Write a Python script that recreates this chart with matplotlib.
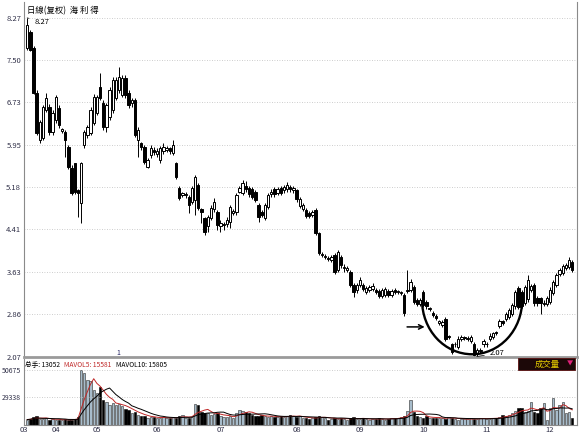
import numpy as np
import pandas as pd
import matplotlib.pyplot as plt
from matplotlib.patches import Rectangle, Arc

plt.rcParams['font.family'] = ['Noto Sans CJK SC', 'DejaVu Sans']

# daily candles (price, yuan)
opens = [7.72, 8.01, 7.72, 6.90, 6.04, 6.08, 6.59, 6.64, 6.19, 6.40,
         6.62, 6.20, 6.18, 5.91, 5.53, 5.62, 5.12, 4.89, 5.95, 6.13,
         6.17, 6.35, 6.53, 7.01, 6.72, 6.28, 6.46, 6.59, 6.81, 6.95,
         6.86, 7.17, 6.90, 6.72, 6.77, 6.04, 5.98, 5.91, 5.55, 5.76,
         5.86, 5.78, 5.67, 5.84, 5.86, 5.89, 5.80, 5.62, 5.16, 5.03,
         5.03, 5.00, 4.91, 4.94, 5.22, 4.78, 4.61, 4.47, 4.61, 4.78,
         4.72, 4.47, 4.48, 4.50, 4.54, 4.70, 4.72, 5.09, 5.07, 5.20,
         5.16, 5.14, 5.09, 4.85, 4.72, 4.61, 4.81, 5.05, 5.14, 5.07,
         5.16, 5.12, 5.14, 5.18, 5.12, 5.12, 4.83, 4.78, 4.76, 4.70,
         4.67, 4.76, 4.34, 3.94, 3.90, 3.88, 3.84, 3.94, 3.66, 3.90,
         3.70, 3.66, 3.63, 3.39, 3.30, 3.39, 3.39, 3.26, 3.30, 3.31,
         3.30, 3.28, 3.19, 3.21, 3.28, 3.21, 3.30, 3.26, 3.24, 3.21,
         3.28, 3.30, 3.35, 3.11, 3.04, 3.26, 3.08, 2.95, 2.88, 2.82,
         2.70, 2.66, 2.77, 2.44, 2.31, 2.30, 2.26, 2.40, 2.41, 2.40,
         2.37, 2.31, 2.13, 2.18, 2.31, 2.30, 2.40, 2.44, 2.53, 2.64,
         2.72, 2.77, 2.80, 2.86, 3.00, 3.33, 3.26, 3.06, 3.13, 3.30,
         3.39, 3.15, 3.15, 3.04, 3.04, 3.08, 3.24, 3.39, 3.59, 3.61,
         3.70, 3.72, 3.80]
highs = [8.27, 8.05, 7.76, 6.95, 6.40, 6.68, 6.90, 6.70, 6.59, 6.86,
         6.68, 6.26, 6.22, 5.95, 5.58, 5.62, 5.14, 5.64, 6.22, 6.31,
         6.64, 6.88, 6.86, 7.26, 6.77, 6.72, 7.01, 7.19, 7.19, 7.37,
         7.23, 7.23, 6.95, 6.81, 6.81, 6.28, 6.00, 5.95, 5.70, 5.95,
         5.91, 5.89, 5.93, 5.98, 5.93, 5.91, 6.04, 5.64, 5.20, 5.09,
         5.09, 5.03, 5.20, 5.40, 5.25, 4.80, 4.63, 4.67, 4.85, 4.98,
         4.76, 4.58, 4.54, 4.63, 4.85, 4.78, 5.07, 5.20, 5.31, 5.29,
         5.20, 5.18, 5.12, 4.89, 4.76, 4.89, 5.07, 5.14, 5.18, 5.18,
         5.20, 5.22, 5.27, 5.22, 5.20, 5.14, 5.00, 4.89, 4.80, 4.74,
         4.76, 4.80, 4.36, 3.99, 3.95, 3.91, 3.93, 3.97, 4.03, 3.93,
         3.77, 3.73, 3.66, 3.42, 3.42, 3.53, 3.42, 3.37, 3.39, 3.42,
         3.33, 3.31, 3.33, 3.35, 3.31, 3.31, 3.33, 3.30, 3.28, 3.24,
         3.66, 3.50, 3.39, 3.15, 3.15, 3.30, 3.11, 2.99, 2.91, 2.86,
         2.75, 2.75, 2.80, 2.48, 2.33, 2.35, 2.46, 2.48, 2.46, 2.45,
         2.48, 2.35, 2.24, 2.24, 2.40, 2.35, 2.50, 2.53, 2.55, 2.77,
         2.75, 2.90, 2.97, 3.06, 3.30, 3.37, 3.30, 3.39, 3.57, 3.41,
         3.42, 3.19, 3.17, 3.11, 3.19, 3.35, 3.48, 3.61, 3.70, 3.77,
         3.79, 3.89, 3.84]
lows = [7.68, 7.66, 6.88, 6.13, 5.98, 6.04, 6.55, 6.13, 6.13, 6.35,
        6.25, 6.17, 5.73, 5.50, 5.03, 5.05, 4.63, 4.52, 5.89, 6.08,
        6.13, 6.31, 6.50, 6.77, 6.22, 6.19, 6.40, 6.53, 6.77, 6.90,
        6.83, 6.81, 6.62, 6.64, 6.09, 5.73, 5.86, 5.60, 5.53, 5.70,
        5.76, 5.73, 5.62, 5.78, 5.82, 5.78, 5.76, 5.33, 4.94, 5.00,
        4.98, 4.70, 4.87, 4.67, 4.76, 4.52, 4.30, 4.36, 4.58, 4.72,
        4.40, 4.36, 4.40, 4.45, 4.43, 4.67, 4.67, 5.07, 5.03, 5.09,
        5.00, 4.96, 4.91, 4.54, 4.63, 4.58, 4.78, 5.00, 5.00, 5.03,
        5.03, 5.07, 5.09, 5.09, 5.07, 4.91, 4.80, 4.74, 4.61, 4.61,
        4.63, 4.30, 3.93, 3.90, 3.86, 3.82, 3.80, 3.59, 3.62, 3.70,
        3.62, 3.62, 3.35, 3.17, 3.24, 3.35, 3.28, 3.22, 3.26, 3.28,
        3.22, 3.15, 3.15, 3.17, 3.17, 3.17, 3.22, 3.22, 3.20, 2.82,
        3.24, 3.26, 3.04, 3.00, 3.00, 2.99, 2.95, 2.91, 2.80, 2.75,
        2.66, 2.62, 2.37, 2.40, 2.13, 2.26, 2.22, 2.37, 2.38, 2.37,
        2.33, 2.07, 2.09, 2.15, 2.26, 2.26, 2.37, 2.40, 2.48, 2.60,
        2.66, 2.73, 2.77, 2.82, 2.95, 2.95, 2.97, 3.02, 3.08, 3.26,
        3.00, 3.00, 2.86, 3.00, 3.00, 3.04, 3.20, 3.35, 3.55, 3.57,
        3.66, 3.68, 3.62]
closes = [8.14, 7.69, 6.90, 6.17, 6.37, 6.64, 6.80, 6.18, 6.53, 6.83,
          6.31, 6.23, 6.04, 5.54, 5.07, 5.09, 5.07, 5.62, 6.19, 6.28,
          6.59, 6.83, 6.83, 6.81, 6.28, 6.68, 6.95, 7.14, 7.14, 7.19,
          7.17, 6.86, 6.68, 6.77, 6.13, 6.22, 5.91, 5.64, 5.67, 5.89,
          5.82, 5.84, 5.89, 5.91, 5.89, 5.84, 5.95, 5.36, 4.98, 5.07,
          5.05, 4.85, 5.16, 5.36, 4.80, 4.72, 4.36, 4.63, 4.80, 4.91,
          4.48, 4.52, 4.50, 4.58, 4.81, 4.74, 5.03, 5.16, 5.25, 5.14,
          5.05, 5.00, 4.94, 4.63, 4.67, 4.85, 5.03, 5.09, 5.05, 5.14,
          5.07, 5.18, 5.22, 5.14, 5.16, 4.96, 4.96, 4.85, 4.65, 4.65,
          4.72, 4.34, 3.97, 3.95, 3.91, 3.86, 3.90, 3.62, 3.99, 3.75,
          3.72, 3.70, 3.39, 3.26, 3.39, 3.48, 3.31, 3.33, 3.35, 3.37,
          3.26, 3.19, 3.30, 3.31, 3.21, 3.28, 3.26, 3.27, 3.25, 2.88,
          3.30, 3.44, 3.08, 3.04, 3.11, 3.02, 3.00, 2.96, 2.84, 2.78,
          2.72, 2.71, 2.40, 2.45, 2.17, 2.31, 2.40, 2.44, 2.43, 2.42,
          2.44, 2.10, 2.20, 2.20, 2.37, 2.31, 2.46, 2.50, 2.51, 2.73,
          2.70, 2.86, 2.93, 3.02, 3.26, 2.99, 3.00, 3.35, 3.48, 3.37,
          3.06, 3.06, 3.06, 3.06, 3.15, 3.30, 3.44, 3.57, 3.66, 3.73,
          3.75, 3.84, 3.66]
# daily volume (hands)
volumes = [11500, 12000, 13500, 14000, 12000, 11800, 12500, 11500, 11800, 11200,
           11500, 11000, 11800, 11200, 11500, 12000, 13500, 50675, 48500, 42800,
           42000, 35000, 32200, 37500, 27000, 25600, 23000, 24400, 23000, 24000,
           22000, 19500, 19100, 16500, 17700, 15100, 14500, 14000, 13000, 13800,
           13200, 12800, 12500, 13500, 13000, 12800, 13200, 12500, 14000, 15500,
           13000, 12500, 13800, 23500, 23000, 17700, 17000, 16500, 15500, 16000,
           17000, 14000, 13500, 13800, 14500, 13000, 16500, 19100, 18500, 17500,
           16500, 15000, 14500, 14000, 15100, 14000, 13500, 14500, 13800, 13200,
           14000, 13500, 14500, 15000, 14000, 13500, 14500, 12500, 13000, 12000,
           12800, 13500, 14000, 13800, 12500, 11500, 12000, 13000, 11800, 12500,
           12000, 11500, 12800, 13200, 12000, 11800, 12500, 12000, 11500, 12200,
           11800, 12500, 12000, 11500, 12000, 12800, 13000, 12500, 13800, 14500,
           18000, 27000, 17500, 14000, 13500, 13000, 14500, 13000, 12500, 12800,
           13000, 12500, 12000, 13500, 13000, 12000, 11500, 12000, 11800, 12000,
           12500, 11800, 12000, 12500, 12800, 12200, 12000, 12500, 13000, 13500,
           15100, 14500, 15500, 17000, 18500, 20500, 20400, 17700, 18500, 25600,
           17700, 16500, 20400, 24400, 11500, 20400, 28300, 19100, 23000, 25600,
           16500, 17700, 13052]

price_ticks = [8.27, 7.50, 6.73, 5.95, 5.18, 4.41, 3.63, 2.86, 2.07]
vol_ticks = [50675, 29338]
month_pos = [-1, 9, 22, 41, 61, 85, 105, 125, 145, 165]
month_labels = ['03', '04', '05', '06', '07', '08', '09', '10', '11', '12']

W, H = 582, 436
o = np.array(opens); h = np.array(highs); l = np.array(lows); c = np.array(closes)
v = np.array(volumes, dtype=float)
idx = np.arange(len(c))
up = c >= o

fig = plt.figure(figsize=(W / 100, H / 100), dpi=100)
ax = fig.add_axes([24 / W, 1 - 357 / H, 553 / W, 355 / H])
axv = fig.add_axes([24 / W, 1 - 425 / H, 553 / W, 66 / H])

# price panel
ax.vlines(idx, l, h, color='black', lw=0.7, zorder=2)
bot = np.minimum(o, c)
hgt = np.maximum(np.abs(c - o), 0.012)
ax.bar(idx[up], hgt[up], bottom=bot[up], width=0.75, color='white',
       edgecolor='black', lw=0.7, zorder=3)
ax.bar(idx[~up], hgt[~up], bottom=bot[~up], width=0.75, color='black',
       edgecolor='black', lw=0.7, zorder=3)
ax.set_xlim(-1, 173.5)
ax.set_ylim(2.07, 8.56)
ax.set_yticks(price_ticks)
ax.set_yticklabels([f'{t:.2f}' for t in price_ticks])
ax.grid(axis='y', color='#bdbdbd', linestyle=(0, (1, 2)), lw=0.6)
ax.set_xticks([])
ax.tick_params(axis='y', length=0, labelsize=5.5, pad=2, labelcolor='#303048')
ax.spines['top'].set_visible(False)
ax.spines['left'].set_color('#8a8a8a')
ax.spines['right'].set_color('#8a8a8a')
ax.spines['bottom'].set_color('#9a9a9a')
ax.spines['bottom'].set_linewidth(2)

# highs / lows marks
ax.annotate('8.27', xy=(0, 8.27), xytext=(2.3, 8.20), fontsize=5.5, va='center',
            arrowprops=dict(arrowstyle='-', lw=0.5, color='black'))
ax.annotate('2.07', xy=(141, 2.07), xytext=(146, 2.14), fontsize=5.5, va='center',
            arrowprops=dict(arrowstyle='-', lw=0.5, color='black'))
ax.text(28.7, 2.15, '1', fontsize=5, color='#202060', ha='center', va='center')

# rounding bottom sketch
ax.add_patch(Arc((140.4, 3.11), 31.6, 1.98, theta1=180, theta2=360,
                 color='black', lw=1.7, zorder=5))
ax.annotate('', xy=(126.3, 2.62), xytext=(119.0, 2.62),
            arrowprops=dict(arrowstyle='->', lw=1.1, color='black', mutation_scale=8))

fig.text(27 / W, 1 - 11 / H, '日線(复权)  海 利 得', fontsize=6, va='center', ha='left')

# volume panel
axv.bar(idx[up], v[up], width=0.75, color='#a7bccb', edgecolor='#2a2a2a', lw=0.4)
axv.bar(idx[~up], v[~up], width=0.75, color='black', edgecolor='black', lw=0.4)
vs = pd.Series(v)
axv.plot(idx, vs.rolling(5, min_periods=1).mean(), color='#c02828', lw=0.7)
axv.plot(idx, vs.rolling(10, min_periods=1).mean(), color='black', lw=0.7)
axv.set_xlim(-1, 173.5)
axv.set_ylim(7210, 59370)
axv.set_yticks(vol_ticks)
axv.set_yticklabels([str(t) for t in vol_ticks])
axv.grid(axis='y', color='#bdbdbd', linestyle=(0, (1, 2)), lw=0.6)
axv.set_xticks(month_pos)
axv.set_xticklabels(month_labels)
axv.tick_params(axis='y', length=0, labelsize=5, pad=2, labelcolor='#303048')
axv.tick_params(axis='x', length=0, labelsize=5.5, pad=1, labelcolor='#303048')
axv.spines['top'].set_visible(False)
for s in ['left', 'right', 'bottom']:
    axv.spines[s].set_color('#8a8a8a')

t1 = fig.text(25 / W, 1 - 365 / H, '总手: 13052', fontsize=4.8, va='center', ha='left')
t2 = axv.annotate('MAVOL5: 15581', xy=(1, 0.5), xycoords=t1, xytext=(3, 0),
                  textcoords='offset points', fontsize=4.8, va='center', ha='left', color='#c02828')
axv.annotate('MAVOL10: 15805', xy=(1, 0.5), xycoords=t2, xytext=(3, 0),
             textcoords='offset points', fontsize=4.8, va='center', ha='left')

fig.patches.append(Rectangle((518 / W, 1 - 370 / H), 57 / W, 12 / H, transform=fig.transFigure,
                             facecolor='#1c0808', edgecolor='#5a1010', lw=0.6))
fig.text(547 / W, 1 - 364 / H, '成交量', fontsize=6, color='#e8d000', ha='center', va='center')
fig.text(570 / W, 1 - 364 / H, '▼', fontsize=4.5, color='#e0207a', ha='center', va='center')

fig.savefig('out.png', dpi=100)
